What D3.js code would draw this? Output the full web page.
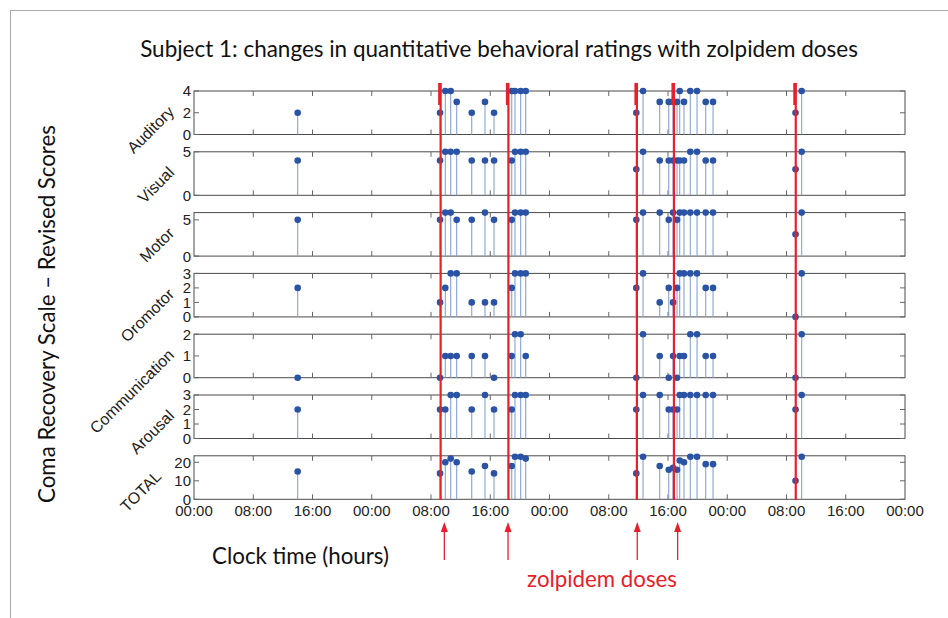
<!DOCTYPE html>
<html><head><meta charset="utf-8">
<script src="https://cdn.jsdelivr.net/npm/d3@7"></script>
<style>body{margin:0;background:#fff}svg{display:block}</style>
</head><body><svg id="c" width="948" height="618"></svg>
<script>
// ---- data (hours from the first midnight) ----
const times = [14.0,
  33.22, 33.93, 34.66, 35.47, 37.50, 39.29, 40.51, 42.90, 43.34, 44.11, 44.79,
  59.72, 60.63, 62.88, 64.10, 64.68, 65.22, 65.58, 66.16, 67.01, 67.92, 69.09, 70.08,
  81.22, 82.05];
const auditory      = [2, 2,4,4,3,2,3,2,4,4,4,4, 2,4,3,3,3,3,4,3,4,4,3,3, 2,4];
const visual        = [4, 4,5,5,5,4,4,4,4,5,5,5, 3,5,4,4,4,4,4,4,5,5,4,4, 3,5];
const motor         = [5, 5,6,6,5,5,6,5,5,6,6,6, 5,6,6,5,6,5,6,6,6,6,6,6, 3,6];
const oromotor      = [2, 1,2,3,3,1,1,1,2,3,3,3, 2,3,1,2,1,2,3,3,3,3,2,2, 0,3];
const communication = [0, 0,1,1,1,1,1,0,1,2,2,1, 0,2,1,0,1,0,1,1,2,2,1,1, 0,2];
const arousal       = [2, 2,2,3,3,2,3,2,2,3,3,3, 2,3,3,2,2,2,3,3,3,3,3,3, 2,3];
const total         = [15, 14,20,22,20,15,18,14,18,23,23,22, 14,23,18,16,17,16,21,20,23,23,19,19, 10,23];

const panelNames = ["Auditory","Visual","Motor","Oromotor","Communication","Arousal","TOTAL"];
const panelSeries = [auditory, visual, motor, oromotor, communication, arousal, total];
const panelMax = [4, 5, 6, 3, 2, 3, 23.5];
const panelTicks = [[0,2,4],[0,5],[0,5],[0,1,2,3],[0,1,2],[0,1,2,3],[0,10,20]];

const xTickHours = [0,8,16,24,32,40,48,56,64,72,80,88,96];
const xTickLabels = ["00:00","08:00","16:00","00:00","08:00","16:00","00:00","08:00","16:00","00:00","08:00","16:00","00:00"];

const doseTimes = [33.3, 42.45, 59.8, 64.8, 81.25];
const arrowTimes = [33.8, 42.4, 59.85, 65.3];

const titleText = "Subject 1: changes in quantitative behavioral ratings with zolpidem doses";
const yLabelText = "Coma Recovery Scale \u2013 Revised Scores";
const xLabelText = "Clock time (hours)";
const doseLabelText = "zolpidem doses";

// ---- layout ----
const svg = d3.select("#c");
const L = 194, R = 905, TOP0 = 91, PITCH = 60.8, PH = 43.5;
const x = d3.scaleLinear().domain([0, 96]).range([L, R]);
const tickFont = "'Liberation Sans', Arial, sans-serif";
const textFont = "Lato, 'Open Sans', sans-serif";

// frame lines
svg.append("line").attr("x1",10).attr("x2",948).attr("y1",10.5).attr("y2",10.5).attr("stroke","#a8a8a8");
svg.append("line").attr("x1",10.5).attr("x2",10.5).attr("y1",10).attr("y2",618).attr("stroke","#a8a8a8");

function fitText(sel, target, base) {
  const w = sel.node().getComputedTextLength();
  sel.attr("font-size", base * target / w);
}

const title = svg.append("text").text(titleText).attr("x", 499).attr("y", 57)
  .attr("text-anchor","middle").attr("font-family", textFont).attr("font-size",20).attr("fill","#111");
fitText(title, 718, 20);

panelNames.forEach((name, i) => {
  const top = TOP0 + i * PITCH;
  const y = d3.scaleLinear().domain([0, panelMax[i]]).range([top + PH, top]);
  const g = svg.append("g");
  // border
  g.append("rect").attr("x", L).attr("y", top).attr("width", R - L).attr("height", PH)
    .attr("fill","none").attr("stroke","#4a4a4a").attr("stroke-width",1);
  // x ticks (inside, top & bottom)
  xTickHours.slice(1, -1).forEach(h => {
    g.append("line").attr("x1", x(h)).attr("x2", x(h)).attr("y1", top).attr("y2", top + 5).attr("stroke","#666");
    g.append("line").attr("x1", x(h)).attr("x2", x(h)).attr("y1", top + PH).attr("y2", top + PH - 5).attr("stroke","#666");
  });
  // y ticks + labels
  let maxW = 0;
  panelTicks[i].forEach(t => {
    g.append("line").attr("x1", L).attr("x2", L + 5).attr("y1", y(t)).attr("y2", y(t)).attr("stroke","#666");
    g.append("line").attr("x1", R).attr("x2", R - 5).attr("y1", y(t)).attr("y2", y(t)).attr("stroke","#666");
    const tl = g.append("text").text(t).attr("x", L - 3).attr("y", y(t)).attr("dy","0.36em")
      .attr("text-anchor","end").attr("font-family", tickFont).attr("font-size",15).attr("fill","#222");
    maxW = Math.max(maxW, tl.node().getComputedTextLength());
  });
  // panel label rotated, left of the tick labels
  const ax = (L - 3 - maxW) - (maxW > 10 ? 12 : 7.5);
  g.append("text").text(name)
    .attr("transform", `translate(${ax},${top + PH/2}) rotate(-45)`)
    .attr("text-anchor","end").attr("font-family", tickFont).attr("font-size",16).attr("fill","#222");
  // stems
  const vals = panelSeries[i];
  g.selectAll("line.stem").data(times).enter().append("line").attr("class","stem")
    .attr("x1", d => x(d)).attr("x2", d => x(d))
    .attr("y1", y(0)).attr("y2", (d, k) => y(vals[k]))
    .attr("stroke","#86a2d6").attr("stroke-width",1.1);
  g.selectAll("circle").data(times).enter().append("circle")
    .attr("cx", d => x(d)).attr("cy", (d, k) => y(vals[k])).attr("r", 3.3)
    .attr("fill","#2a53a6");
  // x tick labels only on last panel
  if (i === panelNames.length - 1) {
    xTickHours.forEach((h, k) => {
      g.append("text").text(xTickLabels[k]).attr("x", x(h)).attr("y", top + PH + 11).attr("dy","0.36em")
        .attr("text-anchor","middle").attr("font-family", tickFont).attr("font-size",15).attr("fill","#222");
    });
  }
});

// dose lines
const red = "#e8202a";
doseTimes.forEach(h => {
  svg.append("line").attr("x1", x(h)).attr("x2", x(h)).attr("y1", 83).attr("y2", 500)
    .attr("stroke", red).attr("stroke-width", 2.2);
  svg.append("line").attr("x1", x(h) - 1).attr("x2", x(h) - 1).attr("y1", 83).attr("y2", 105)
    .attr("stroke", red).attr("stroke-width", 3);
});

// arrows
arrowTimes.forEach(h => {
  const ax = x(h);
  svg.append("line").attr("x1", ax).attr("x2", ax).attr("y1", 531).attr("y2", 560)
    .attr("stroke", red).attr("stroke-width", 1.3);
  svg.append("path").attr("d", `M${ax},522 L${ax-3.5},532 L${ax+3.5},532 Z`).attr("fill", red);
});

// axis texts
const yl = svg.append("text").text(yLabelText)
  .attr("transform","translate(47,314) rotate(-90)").attr("dy","0.35em")
  .attr("text-anchor","middle").attr("font-family", textFont).attr("font-size",22).attr("fill","#111");
fitText(yl, 378, 22);
const xl = svg.append("text").text(xLabelText).attr("x", 300.5).attr("y", 556).attr("dy","0.35em")
  .attr("text-anchor","middle").attr("font-family", textFont).attr("font-size",20).attr("fill","#111");
fitText(xl, 177, 20);
const dl = svg.append("text").text(doseLabelText).attr("x", 602).attr("y", 579).attr("dy","0.35em")
  .attr("text-anchor","middle").attr("font-family", textFont).attr("font-size",20).attr("fill", red);
fitText(dl, 150, 20);
</script></body></html>
